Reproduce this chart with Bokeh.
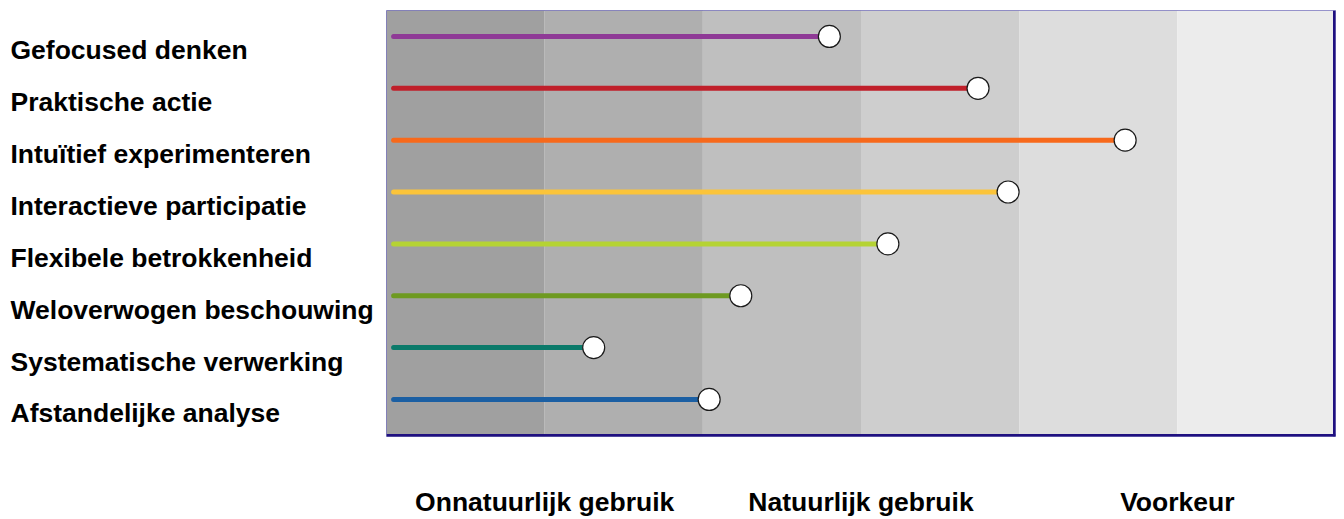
from bokeh.plotting import figure
from bokeh.layouts import row
from bokeh.models import Range1d, FixedTicker, Span, ColumnDataSource
from bokeh.core.properties import value
from bokeh.embed import file_html
from bokeh.resources import INLINE

# ---- data ----
categories = [
    "Gefocused denken",
    "Praktische actie",
    "Intuïtief experimenteren",
    "Interactieve participatie",
    "Flexibele betrokkenheid",
    "Weloverwogen beschouwing",
    "Systematische verwerking",
    "Afstandelijke analyse",
]
scores = [2.80, 3.74, 4.67, 3.93, 3.17, 2.24, 1.31, 2.04]
line_colors = ["#8f3a96", "#c01f2a", "#f7691b", "#fbc43a",
               "#b5d334", "#6e9a21", "#0b7a6a", "#1b5fa3"]

band_edges = [0, 1, 2, 3, 4, 5, 6]
band_colors = ["#a0a0a0", "#afafaf", "#bfbfbf", "#cecece", "#dddddd", "#ececec"]

zone_ticks = [1, 3, 5]
zone_labels = ["Onnatuurlijk gebruik", "Natuurlijk gebruik", "Voorkeur"]

FONT = "Liberation Sans"
FS = "26.5px"

n = len(categories)
ypos = [n - 1 - i for i in range(n)]
y_top = n - 0.5
y_bot = -0.714
yr = Range1d(y_bot, y_top)

# ---- label panel ----
lab = figure(frame_width=386, frame_height=426, output_backend="svg",
             toolbar_location=None, x_range=Range1d(0, 386), y_range=yr,
             x_axis_location=None, y_axis_location=None,
             min_border_left=0, min_border_right=0, min_border_top=10,
             min_border_bottom=10)
lab.outline_line_color = None
lab.xgrid.visible = False
lab.ygrid.visible = False
lab.background_fill_color = "white"
lab.border_fill_color = "white"
lab.text(x=[10] * n, y=ypos, text=categories, y_offset=14,
         text_font=value(FONT), text_font_style="bold", text_font_size=FS,
         text_baseline="middle", text_align="left", text_color="black")

# ---- chart ----
p = figure(frame_width=949, frame_height=426, output_backend="svg",
           toolbar_location=None, x_range=Range1d(0, 6), y_range=yr,
           y_axis_location=None,
           min_border_left=0, min_border_top=10, min_border_right=8,
           min_border_bottom=10)
p.background_fill_color = "white"
p.border_fill_color = "white"
p.xgrid.visible = False
p.ygrid.visible = False
p.outline_line_color = "#7a76c0"
p.outline_line_width = 1

p.quad(left=band_edges[:-1], right=band_edges[1:], bottom=y_bot, top=y_top,
       fill_color=band_colors, line_color=None)

src = ColumnDataSource(dict(x0=[0.045] * n, x1=scores, y=ypos, c=line_colors))
p.segment(x0="x0", y0="y", x1="x1", y1="y", color="c", line_width=5,
          line_cap="round", source=src)
p.scatter(x="x1", y="y", size=22, fill_color="white", line_color="#1a1a1a",
          line_width=1.2, source=src)

p.add_layout(Span(location=6, dimension="height", line_color="#1f1080", line_width=5))
p.add_layout(Span(location=y_bot, dimension="width", line_color="#1f1080", line_width=5))

ax = p.xaxis[0]
ax.ticker = FixedTicker(ticks=zone_ticks)
ax.major_label_overrides = {t: l for t, l in zip(zone_ticks, zone_labels)}
ax.axis_line_color = None
ax.major_tick_line_color = None
ax.minor_tick_line_color = None
ax.major_label_standoff = 44
ax.major_label_text_font = FONT
ax.major_label_text_font_style = "bold"
ax.major_label_text_font_size = FS
ax.major_label_text_color = "black"

layout = row(lab, p)
open("out.html", "w").write(file_html(layout, INLINE))
